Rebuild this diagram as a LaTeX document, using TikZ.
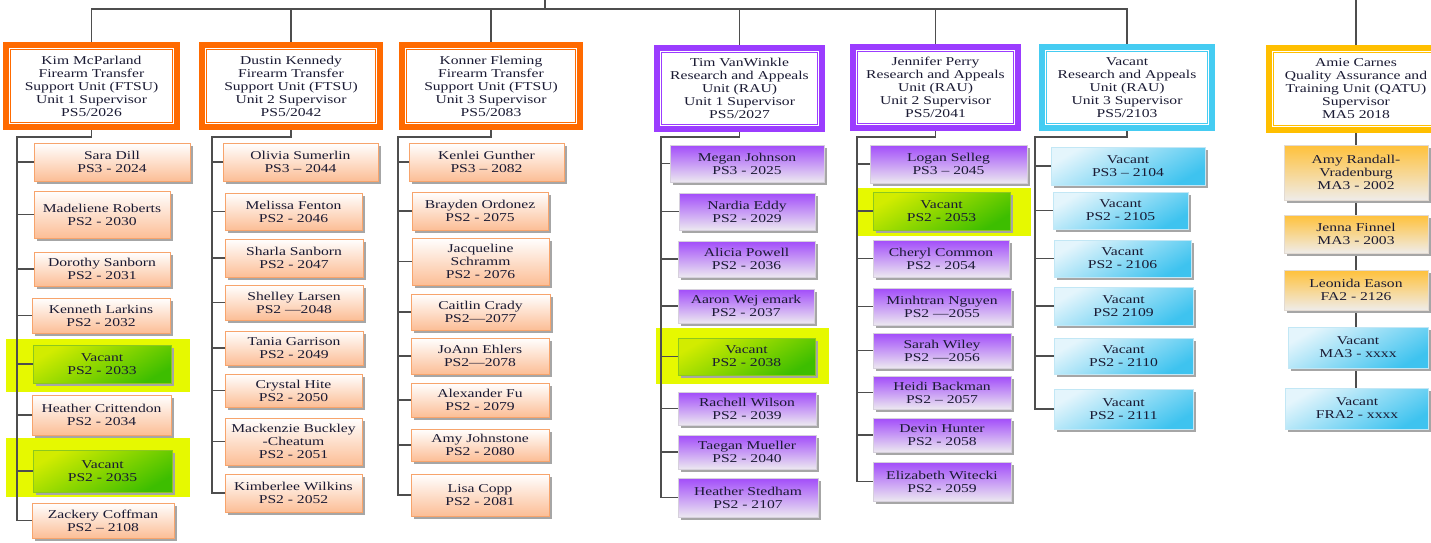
\documentclass[tikz,border=0pt]{standalone}
\usepackage{fontspec}
\setmainfont{Liberation Serif}[FakeStretch=1.3]
\usepackage{xcolor}
\usepackage{tikz}
\usetikzlibrary{backgrounds,shadows}

\definecolor{frameO}{HTML}{FF6A00}
\definecolor{frameP}{HTML}{9B3CFF}
\definecolor{frameB}{HTML}{45CCF2}
\definecolor{frameG}{HTML}{FFBF00}
\definecolor{kidO}{HTML}{FCBE96}
\definecolor{kidOline}{HTML}{F7A46C}
\definecolor{kidP}{HTML}{A24CFA}
\definecolor{kidPlow}{HTML}{ECE8F0}
\definecolor{kidPline}{HTML}{D6D0DC}
\definecolor{kidB}{HTML}{3EC3EF}
\definecolor{kidBhigh}{HTML}{E4F5FC}
\definecolor{kidBline}{HTML}{C2E7F5}
\definecolor{kidG}{HTML}{FFC13A}
\definecolor{kidGlow}{HTML}{EFECE9}
\definecolor{kidGline}{HTML}{E2DAD2}
\definecolor{vacG}{HTML}{3DBE00}
\definecolor{vacGhigh}{HTML}{D2EC00}
\definecolor{vacline}{HTML}{8CC81E}
\definecolor{hilite}{HTML}{E6F900}
\definecolor{linkgray}{HTML}{4E4E4E}
\definecolor{ink}{HTML}{1A1A33}

\begin{document}
\begin{tikzpicture}[x=1pt,y=-1pt,
  every node/.style={font=\fontsize{12}{13}\selectfont, text=ink},
  link/.style={draw=linkgray, line width=1.3pt},
  boss/.style={draw=#1, fill=white, line width=6pt, inner sep=0pt, align=center,
    path picture={\draw[#1, line width=1pt]
      ([shift={(4.5pt,-4.5pt)}]path picture bounding box.north west) rectangle
      ([shift={(-4.5pt,4.5pt)}]path picture bounding box.south east);}},
  kid/.style={align=center, inner sep=0pt, line width=0.8pt,
    drop shadow={shadow xshift=2.5pt, shadow yshift=-2.5pt, fill=black!35, opacity=1}},
  kidO/.style={kid, draw=kidOline, top color=white, bottom color=kidO},
  kidP/.style={kid, draw=kidPline, top color=kidP, bottom color=kidPlow},
  kidB/.style={kid, draw=kidBline, top color=kidBhigh, bottom color=kidB, shading angle=30},
  kidG/.style={kid, draw=kidGline, top color=kidG, bottom color=kidGlow},
  vac/.style={kid, draw=vacline, top color=vacGhigh, bottom color=vacG, shading angle=30}]

\useasboundingbox (0,0) rectangle (1431,542);

% Supervisors
\node[boss=frameO, minimum width=171, minimum height=82] (kim) at (91.5,86)
  {Kim McParland\\Firearm Transfer\\Support Unit (FTSU)\\Unit 1 Supervisor\\PS5/2026};
\node[boss=frameO, minimum width=178, minimum height=82] (dustin) at (291,86)
  {Dustin Kennedy\\Firearm Transfer\\Support Unit (FTSU)\\Unit 2 Supervisor\\PS5/2042};
\node[boss=frameO, minimum width=178, minimum height=82] (konner) at (491,86)
  {Konner Fleming\\Firearm Transfer\\Support Unit (FTSU)\\Unit 3 Supervisor\\PS5/2083};
\node[boss=frameP, minimum width=165, minimum height=81] (tim) at (739.5,88.5)
  {Tim VanWinkle\\Research and Appeals\\Unit (RAU)\\Unit 1 Supervisor\\PS5/2027};
\node[boss=frameP, minimum width=165, minimum height=81] (jennifer) at (935.5,87.5)
  {Jennifer Perry\\Research and Appeals\\Unit (RAU)\\Unit 2 Supervisor\\PS5/2041};
\node[boss=frameB, minimum width=170, minimum height=81] (vacrau) at (1127,87.5)
  {Vacant\\Research and Appeals\\Unit (RAU)\\Unit 3 Supervisor\\PS5/2103};
\node[boss=frameG, minimum width=174, minimum height=82] (amie) at (1356,89)
  {Amie Carnes\\Quality Assurance and\\Training Unit (QATU)\\Supervisor\\MA5 2018};

% FTSU unit 1
\node[kidO, minimum width=156, minimum height=38] (sara) at (112,162) {Sara Dill\\PS3 - 2024};
\node[kidO, minimum width=136, minimum height=47] (madeliene) at (102,214.5) {Madeliene Roberts\\PS2 - 2030};
\node[kidO, minimum width=136, minimum height=34] (dorothy) at (102,269) {Dorothy Sanborn\\PS2 - 2031};
\node[kidO, minimum width=138, minimum height=35] (kenneth) at (101,315.5) {Kenneth Larkins\\PS2 - 2032};
\node[vac, minimum width=138, minimum height=38] (v2033) at (102,364) {Vacant\\PS2 - 2033};
\node[kidO, minimum width=139, minimum height=40] (heather) at (101.5,415) {Heather Crittendon\\PS2 - 2034};
\node[vac, minimum width=139, minimum height=42] (v2035) at (102.5,471) {Vacant\\PS2 - 2035};
\node[kidO, minimum width=142, minimum height=35] (zackery) at (103,520.5) {Zackery Coffman\\PS2 – 2108};

% FTSU unit 2
\node[kidO, minimum width=155, minimum height=38] (olivia) at (300.5,162) {Olivia Sumerlin\\PS3 – 2044};
\node[kidO, minimum width=137, minimum height=37] (melissa) at (293.5,211.5) {Melissa Fenton\\PS2 - 2046};
\node[kidO, minimum width=138, minimum height=38] (sharla) at (294,258) {Sharla Sanborn\\PS2 - 2047};
\node[kidO, minimum width=138, minimum height=35] (shelley) at (294,302.5) {Shelley Larsen\\PS2 —2048};
\node[kidO, minimum width=138, minimum height=34] (tania) at (294,348) {Tania Garrison\\PS2 - 2049};
\node[kidO, minimum width=137, minimum height=33] (crystal) at (293.5,390.5) {Crystal Hite\\PS2 - 2050};
\node[kidO, minimum width=137, minimum height=47] (mackenzie) at (293.5,441.5) {Mackenzie Buckley\\-Cheatum\\PS2 - 2051};
\node[kidO, minimum width=137, minimum height=38] (kimberlee) at (293.5,493) {Kimberlee Wilkins\\PS2 - 2052};

% FTSU unit 3
\node[kidO, minimum width=155, minimum height=38] (kenlei) at (486.5,162) {Kenlei Gunther\\PS3 – 2082};
\node[kidO, minimum width=136, minimum height=38] (brayden) at (480,211) {Brayden Ordonez\\PS2 - 2075};
\node[kidO, minimum width=137, minimum height=47] (jacqueline) at (480.5,261.5) {Jacqueline\\Schramm\\PS2 - 2076};
\node[kidO, minimum width=139, minimum height=36] (caitlin) at (480.5,312) {Caitlin Crady\\PS2—2077};
\node[kidO, minimum width=138, minimum height=36] (joann) at (480,356) {JoAnn Ehlers\\PS2—2078};
\node[kidO, minimum width=138, minimum height=34] (alexander) at (480,400) {Alexander Fu\\PS2 - 2079};
\node[kidO, minimum width=138, minimum height=32] (amyj) at (480,445) {Amy Johnstone\\PS2 - 2080};
\node[kidO, minimum width=138, minimum height=42] (lisa) at (480,495) {Lisa Copp\\PS2 - 2081};

% RAU unit 1
\node[kidP, minimum width=154, minimum height=37] (megan) at (747,163.5) {Megan Johnson\\PS3 - 2025};
\node[kidP, minimum width=136, minimum height=37] (nardia) at (747,211.5) {Nardia Eddy\\PS2 - 2029};
\node[kidP, minimum width=137, minimum height=36] (alicia) at (746.5,259) {Alicia Powell\\PS2 - 2036};
\node[kidP, minimum width=136, minimum height=34] (aaron) at (746,306) {Aaron Wej emark\\PS2 - 2037};
\node[vac, minimum width=137, minimum height=37] (v2038) at (746.5,356.5) {Vacant\\PS2 - 2038};
\node[kidP, minimum width=138, minimum height=33] (rachell) at (747,408.5) {Rachell Wilson\\PS2 - 2039};
\node[kidP, minimum width=138, minimum height=34] (taegan) at (747,452) {Taegan Mueller\\PS2 - 2040};
\node[kidP, minimum width=140, minimum height=39] (stedham) at (748,497.5) {Heather Stedham\\PS2 - 2107};

% RAU unit 2
\node[kidP, minimum width=157, minimum height=38] (logan) at (948.5,164) {Logan Selleg\\PS3 – 2045};
\node[vac, minimum width=137, minimum height=38] (v2053) at (941.5,211) {Vacant\\PS2 - 2053};
\node[kidP, minimum width=136, minimum height=37] (cheryl) at (941,258.5) {Cheryl Common\\PS2 - 2054};
\node[kidP, minimum width=138, minimum height=37] (minhtran) at (942,306.5) {Minhtran Nguyen\\PS2 —2055};
\node[kidP, minimum width=138, minimum height=35] (sarah) at (942,350.5) {Sarah Wiley\\PS2 —2056};
\node[kidP, minimum width=138, minimum height=33] (heidi) at (942,392.5) {Heidi Backman\\PS2 – 2057};
\node[kidP, minimum width=138, minimum height=34] (devin) at (942,435) {Devin Hunter\\PS2 - 2058};
\node[kidP, minimum width=138, minimum height=39] (elizabeth) at (942,481.5) {Elizabeth Witecki\\PS2 - 2059};

% RAU unit 3
\node[kidB, minimum width=154, minimum height=38] (v2104) at (1128,166) {Vacant\\PS3 – 2104};
\node[kidB, minimum width=135, minimum height=37] (v2105) at (1120.5,210.5) {Vacant\\PS2 - 2105};
\node[kidB, minimum width=137, minimum height=37] (v2106) at (1122.5,258.5) {Vacant\\PS2 - 2106};
\node[kidB, minimum width=139, minimum height=38] (v2109) at (1123.5,306) {Vacant\\PS2 2109};
\node[kidB, minimum width=139, minimum height=36] (v2110) at (1123.5,356) {Vacant\\PS2 - 2110};
\node[kidB, minimum width=139, minimum height=40] (v2111) at (1123.5,409) {Vacant\\PS2 - 2111};

% QATU
\node[kidG, minimum width=144, minimum height=55] (amyr) at (1356,172.5) {Amy Randall-\\Vradenburg\\MA3 - 2002};
\node[kidG, minimum width=144, minimum height=38] (jenna) at (1356,234) {Jenna Finnel\\MA3 - 2003};
\node[kidG, minimum width=144, minimum height=40] (leonida) at (1356,290) {Leonida Eason\\FA2 - 2126};
\node[kidB, minimum width=140, minimum height=41] (vma3) at (1358,347.5) {Vacant\\MA3 - xxxx};
\node[kidB, minimum width=143, minimum height=41] (vfra2) at (1357,408.5) {Vacant\\FRA2 - xxxx};

\begin{scope}[on background layer]
% Highlights
\fill[hilite] (6,339) rectangle (190,392);
\fill[hilite] (6,438) rectangle (190,497);
\fill[hilite] (656,328) rectangle (829,384);
\fill[hilite] (858,188) rectangle (1031,236);

% Top line
\coordinate (root) at (545,0);
\coordinate (bus) at (545,9);
\draw[link] (root) -- (bus);
\draw[link] (kim.north) |- (bus) -| (vacrau.north);
\foreach \b in {dustin,konner,tim,jennifer}
  \draw[link] (\b.north) -- (\b.north |- bus);
\coordinate (qtop) at (1356,0);
\draw[link] (qtop) -- (amie.north);

% Spines
\coordinate (kimtop) at (17,137);
\draw[link] (kim.south) |- (kimtop) |- (zackery.west);
\foreach \k in {sara,madeliene,dorothy,kenneth,v2033,heather,v2035}
  \draw[link] (kimtop |- \k.west) -- (\k.west);

\coordinate (dustintop) at (212,137);
\draw[link] (dustin.south) |- (dustintop) |- (kimberlee.west);
\foreach \k in {olivia,melissa,sharla,shelley,tania,crystal,mackenzie}
  \draw[link] (dustintop |- \k.west) -- (\k.west);

\coordinate (konnertop) at (398,137);
\draw[link] (konner.south) |- (konnertop) |- (lisa.west);
\foreach \k in {kenlei,brayden,jacqueline,caitlin,joann,alexander,amyj}
  \draw[link] (konnertop |- \k.west) -- (\k.west);

\coordinate (timtop) at (661,137);
\draw[link] (tim.south) |- (timtop) |- (stedham.west);
\foreach \k in {megan,nardia,alicia,aaron,v2038,rachell,taegan}
  \draw[link] (timtop |- \k.west) -- (\k.west);

\coordinate (jentop) at (857,137);
\draw[link] (jennifer.south) |- (jentop) |- (elizabeth.west);
\foreach \k in {logan,v2053,cheryl,minhtran,sarah,heidi,devin}
  \draw[link] (jentop |- \k.west) -- (\k.west);

\coordinate (vactop) at (1035,137);
\draw[link] (vacrau.south) |- (vactop) |- (v2111.west);
\foreach \k in {v2104,v2105,v2106,v2109,v2110}
  \draw[link] (vactop |- \k.west) -- (\k.west);

% QATU chain
\draw[link] (amie.south) -- (amyr.north) (amyr.south) -- (jenna.north)
  (jenna.south) -- (leonida.north) (leonida.south) -- (vma3.north -| leonida.south)
  (vma3.south -| leonida.south) -- (vfra2.north -| leonida.south);
\end{scope}
\end{tikzpicture}
\end{document}
